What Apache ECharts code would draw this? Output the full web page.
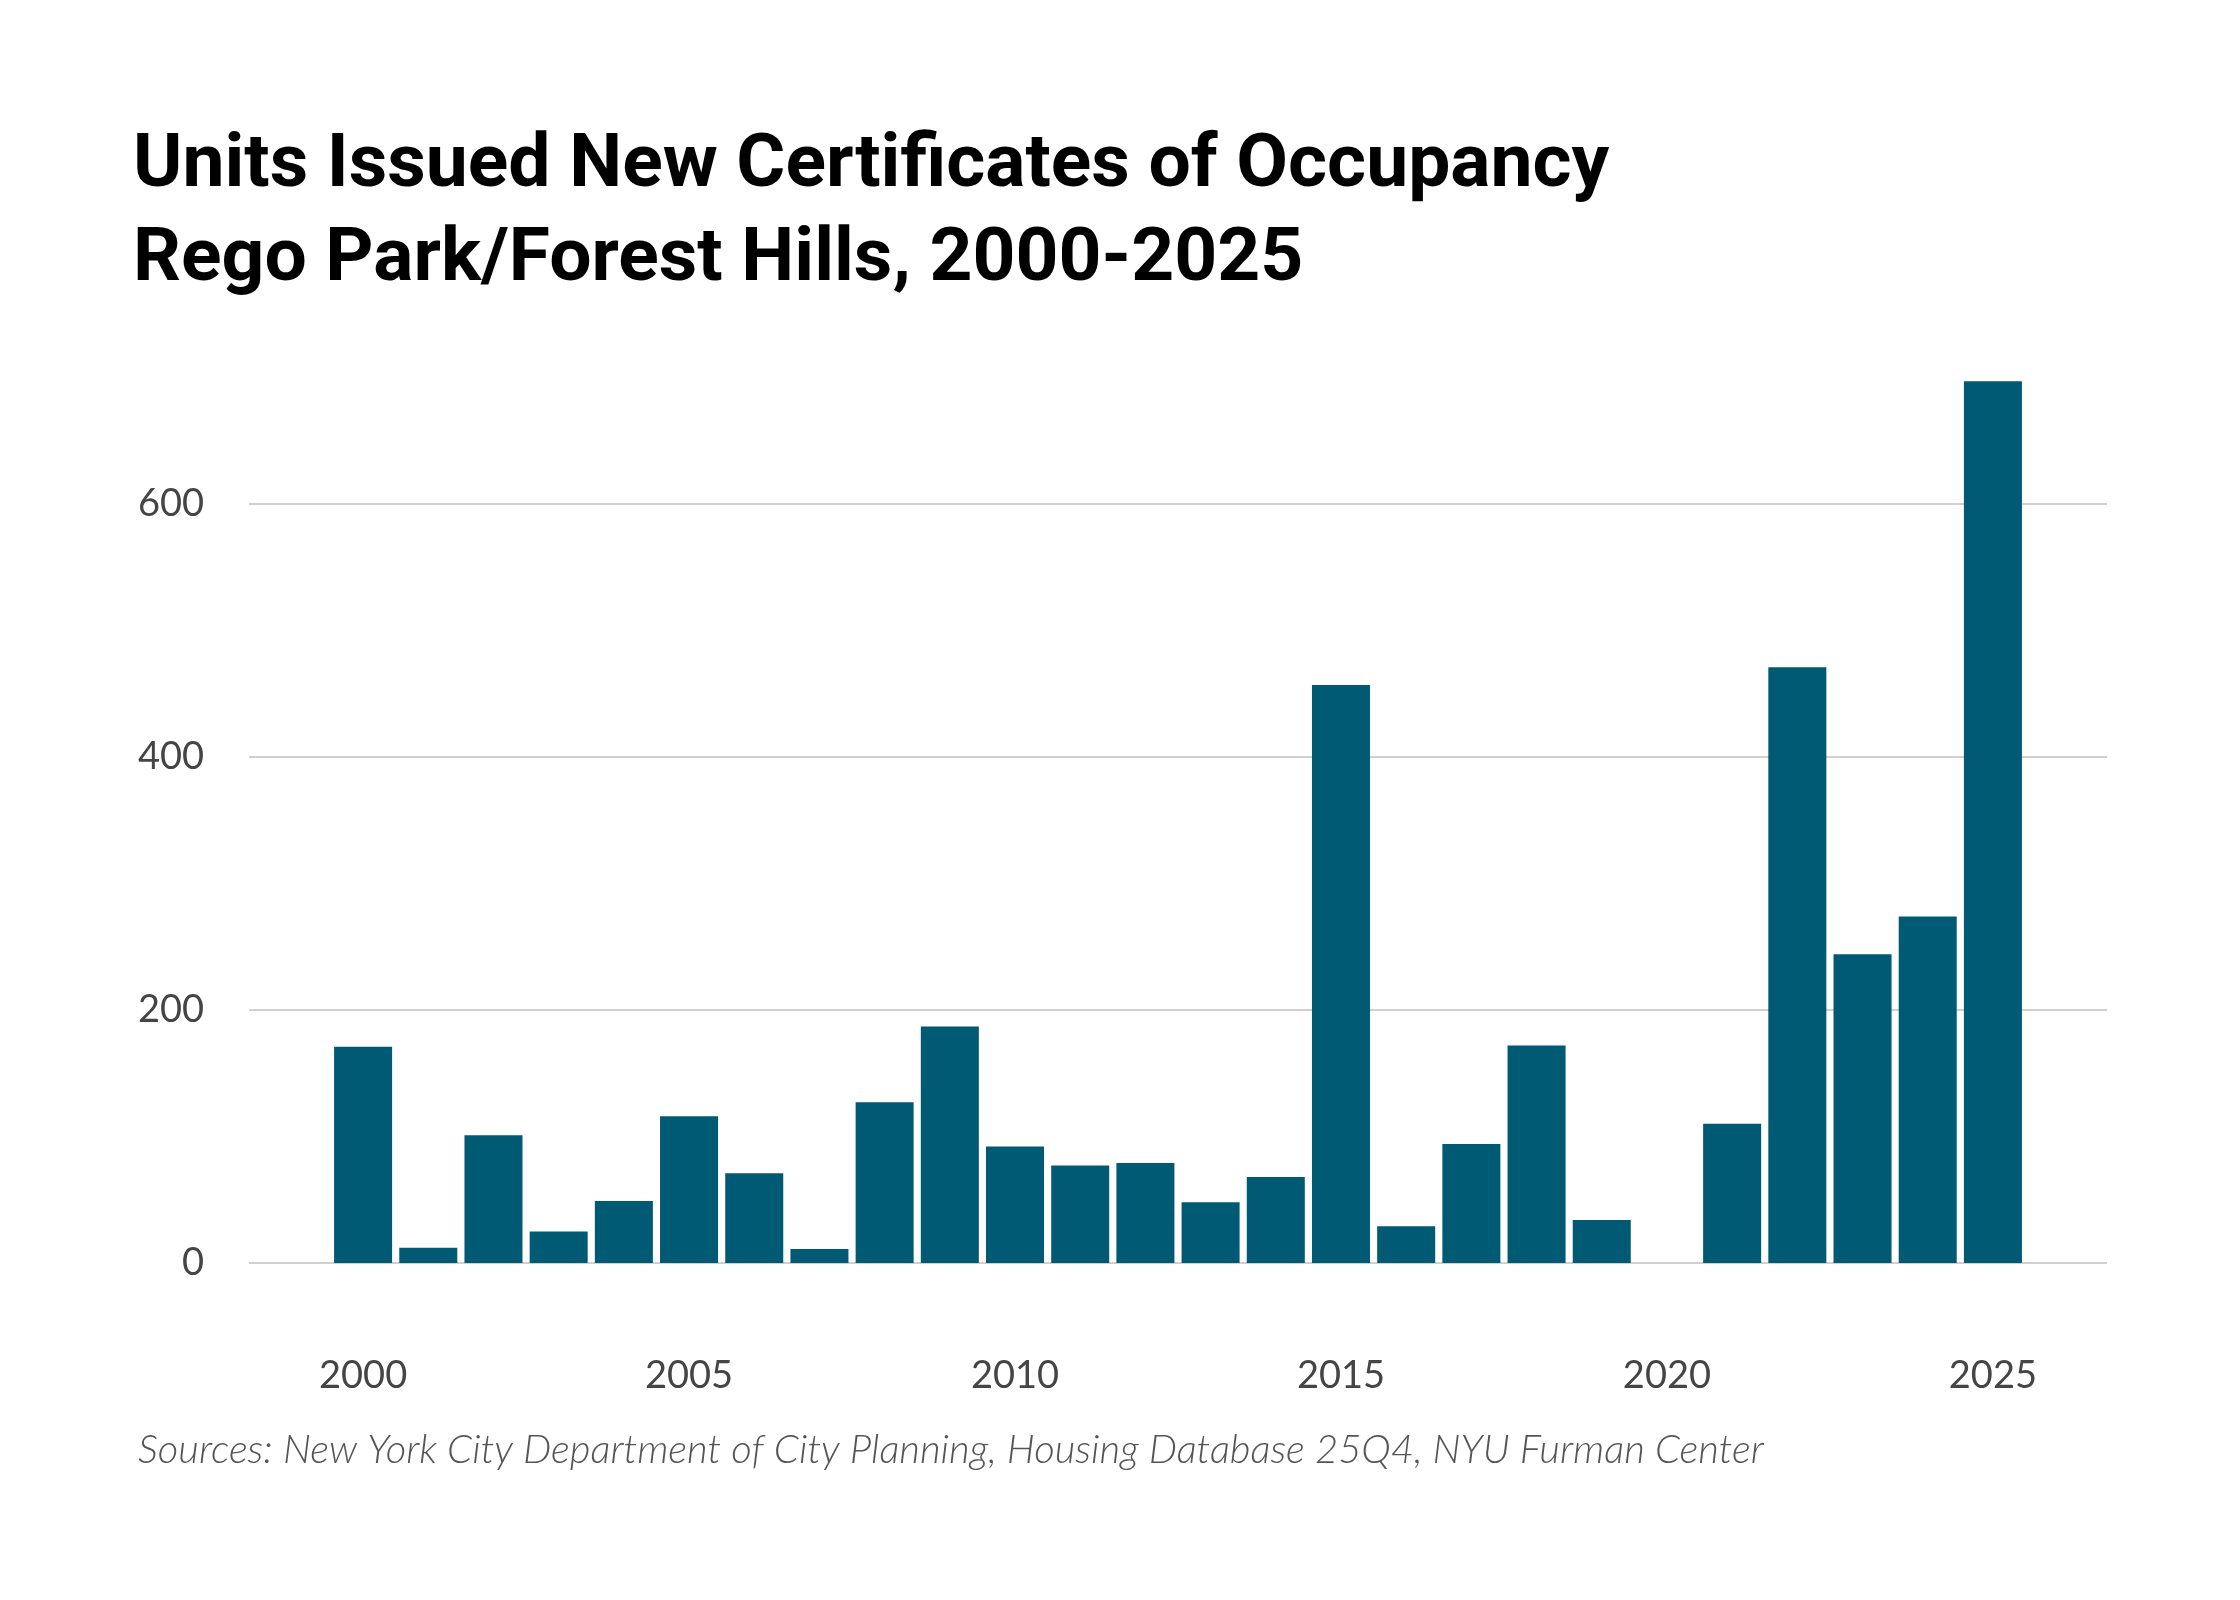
<!DOCTYPE html>
<html>
<head>
<meta charset="utf-8">
<title>Units Issued New Certificates of Occupancy</title>
<script src="https://cdn.jsdelivr.net/npm/echarts@6/dist/echarts.min.js"></script>
<style>
  html, body { margin: 0; padding: 0; background: #fff; }
  #chart { width: 2240px; height: 1600px; }
</style>
</head>
<body>
<div id="chart"></div>
<script>
// data
var years = [2000, 2001, 2002, 2003, 2004, 2005, 2006, 2007, 2008, 2009, 2010, 2011, 2012,
  2013, 2014, 2015, 2016, 2017, 2018, 2019, 2020, 2021, 2022, 2023, 2024, 2025];
var units = [171, 12, 101, 25, 49, 116, 71, 11, 127, 187, 92, 77, 79,
  48, 68, 457, 29, 94, 172, 34, 0, 110, 471, 244, 274, 697];
var xTicks = [2000, 2005, 2010, 2015, 2020, 2025];
var yTicks = [0, 200, 400, 600];

var chart = echarts.init(document.getElementById('chart'), null, { renderer: 'canvas' });

var barData = years.map(function (y, i) { return [y, units[i]]; });

var option = {
  backgroundColor: '#ffffff',
  animation: false,
  title: [{
    text: 'Units Issued New Certificates of Occupancy\nRego Park/Forest Hills, 2000-2025',
    left: 128,
    top: 115,
    textStyle: {
      fontFamily: 'Roboto, sans-serif',
      fontWeight: 'bold',
      fontSize: 75,
      lineHeight: 94,
      color: '#000'
    }
  }, {
    text: 'Sources: New York City Department of City Planning, Housing Database 25Q4, NYU Furman Center',
    left: 133,
    top: 1425,
    textStyle: {
      fontFamily: 'Lato, sans-serif',
      fontStyle: 'italic',
      fontWeight: 300,
      fontSize: 40,
      color: '#555'
    }
  }],
  grid: {
    left: 249,
    right: 133,
    top: 377.5,
    bottom: 337,
    outerBoundsMode: 'none'
  },
  xAxis: {
    type: 'value',
    min: 1998.25,
    max: 2026.75,
    axisLine: { show: false },
    axisTick: { show: false },
    splitLine: { show: false },
    axisLabel: {
      customValues: xTicks,
      formatter: function (v) { return String(v); },
      margin: 94,
      fontFamily: 'Lato, sans-serif',
      fontSize: 38,
      color: '#454545'
    }
  },
  yAxis: {
    type: 'value',
    min: 0,
    max: 700,
    interval: 200,
    axisLine: { show: false },
    axisTick: { show: false },
    axisLabel: {
      showMaxLabel: false,
      margin: 45,
      fontFamily: 'Lato, sans-serif',
      fontSize: 38,
      color: '#454545',
      formatter: function (v) { return yTicks.indexOf(v) >= 0 ? String(v) : ''; }
    },
    splitLine: {
      showMaxLine: false,
      lineStyle: { color: '#d0d0d0', width: 2 }
    }
  },
  series: [{
    type: 'bar',
    data: barData,
    barWidth: '89%',
    itemStyle: { color: '#015a74' }
  }]
};

chart.setOption(option);
</script>
</body>
</html>
